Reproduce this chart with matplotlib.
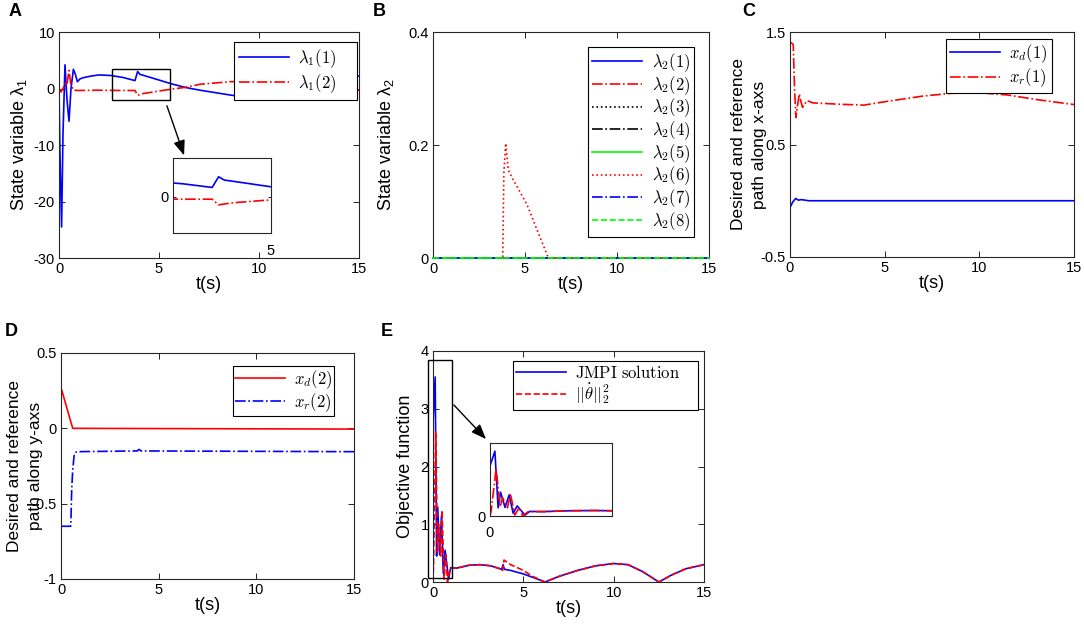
import matplotlib

matplotlib.use("Agg")
import matplotlib.pyplot as plt
from matplotlib.patches import Rectangle

plt.rcParams["font.family"] = ["Liberation Sans", "DejaVu Sans"]
plt.rcParams["mathtext.fontset"] = "cm"
plt.rcParams["axes.unicode_minus"] = False

BLUE = "#0000ff"
RED = "#ff0000"
GREEN = "#00ff00"
BLACK = "#000000"
SPINE = "#262626"
TICK_FS = 10.5
LAB_FS = 13
LAB2_FS = 12.5
LEG_FS = 12
PAD = "\u00a0" * 4   # MATLAB legends leave extra room on the right

# ---- panel A: lambda_1 ----
a_t1 = [0, 0.05, 0.13, 0.2, 0.3, 0.4, 0.5, 0.6, 0.72, 0.82, 0.92, 1.05, 1.2,
        1.6, 2.0, 2.6, 3.2, 3.8, 3.93, 4.05, 4.2, 5.0, 5.55, 6.3, 7.05, 8.55,
        9.5, 10.5, 11.4, 12.5, 13.5, 14.3, 15]
a_v1 = [0, -12, -24.5, -8, 4.2, -2, -5.8, 0, 3.4, 2.5, 1.2, 1.7, 1.9,
        2.2, 2.4, 2.3, 1.95, 1.4, 3.0, 2.5, 2.35, 1.5, 0.9, 0.2, -0.3, -1.15,
        -1.6, -1.9, -1.8, -0.7, 0.7, 1.7, 2.2]
a_t2 = [0, 0.1, 0.2, 0.3, 0.38, 0.45, 0.5, 0.58, 0.72, 1.0, 2.0, 3.0, 3.8,
        3.93, 4.2, 5.0, 5.55, 6.3, 7.05, 8.55, 9.5, 10.5, 11.5, 12.5, 13.5,
        14.3, 15]
a_v2 = [0, -0.6, 0, 0.9, 0.5, 2.0, 3.2, 1.0, -0.3, -0.35, -0.3, -0.35, -0.35,
        -1.2, -0.9, -0.45, -0.15, 0.2, 0.75, 1.2, 1.3, 1.25, 1.0, 0.6, 0.2,
        -0.1, -0.3]

# ---- panel B: lambda_2 (only component 6 leaves zero) ----
b_t = [0, 3.79, 3.85, 3.95, 4.05, 4.1, 4.3, 5.1, 6.27, 15]
b_v6 = [0, 0, 0.15, 0.203, 0.17, 0.155, 0.142, 0.095, 0, 0]
b_zero_t = [0, 15]
b_zero_v = [0, 0]
b_styles = [(BLUE, "-"), (RED, "-."), (BLACK, ":"), (BLACK, "-."),
            (GREEN, "-"), (RED, ":"), (BLUE, "-."), (GREEN, "--")]

# ---- panel C: path along x ----
c_td = [0, 0.15, 0.3, 0.45, 0.6, 1.0, 15]
c_vd = [-0.06, -0.01, 0.02, 0.005, 0.01, 0.0, 0.0]
c_tr = [0, 0.17, 0.24, 0.31, 0.4, 0.49, 0.58, 0.66, 0.78, 0.9, 1.2, 2.6,
        3.9, 5.0, 7.0, 8.5, 10.0, 11.5, 13.0, 15]
c_vr = [1.41, 1.39, 1.0, 0.74, 0.85, 0.95, 0.88, 0.83, 0.86, 0.89, 0.87,
        0.858, 0.85, 0.88, 0.93, 0.955, 0.96, 0.94, 0.9, 0.855]

# ---- panel D: path along y ----
d_td = [0, 0.6, 15]
d_vd = [0.27, 0.0, -0.005]
d_tr = [0, 0.5, 0.55, 0.6, 0.68, 0.8, 3.9, 4.0, 4.1, 15]
d_vr = [-0.65, -0.65, -0.4, -0.276, -0.17, -0.155, -0.15, -0.14, -0.15,
        -0.155]

# ---- panel E: objective function ----
e_t1 = [0, 0.12, 0.2, 0.26, 0.37, 0.47, 0.57, 0.67, 0.86, 0.98, 1.3, 2.0,
        2.6, 3.2, 3.8, 3.88, 3.95, 4.3, 5.0, 5.7, 6.2, 7.0, 8.0, 9.0, 10.0,
        10.8, 11.6, 12.5, 13.2, 14.0, 15]
e_v1 = [2.75, 3.55, 0.45, 1.3, 0.47, 1.15, 0.15, 0.55, 0.05, 0.25, 0.24,
        0.29, 0.3, 0.28, 0.22, 0.3, 0.22, 0.2, 0.14, 0.06, 0.0, 0.1, 0.2,
        0.28, 0.32, 0.3, 0.18, 0.0, 0.12, 0.23, 0.3]
e_t2 = [0, 0.03, 0.15, 0.25, 0.31, 0.43, 0.5, 0.61, 0.72, 0.8, 0.94, 1.3,
        2.0, 2.6, 3.2, 3.8, 3.85, 3.93, 4.3, 5.0, 5.5, 6.2, 7.0, 8.0, 9.0,
        10.0, 10.8, 11.6, 12.5, 13.2, 14.0, 15]
e_v2 = [0, 0.3, 2.6, 0.5, 1.0, 0.45, 1.24, 0.05, 0.47, 0.0, 0.24, 0.24,
        0.29, 0.3, 0.28, 0.22, 0.2, 0.38, 0.3, 0.2, 0.1, 0.0, 0.1, 0.2,
        0.28, 0.32, 0.3, 0.18, 0.0, 0.12, 0.23, 0.3]


def style(ax, fs=TICK_FS, length=4):
    for s in ax.spines.values():
        s.set_color(SPINE)
        s.set_linewidth(0.8)
    ax.tick_params(direction="in", top=True, right=True, length=length,
                   width=0.6, labelsize=fs, colors=BLACK, pad=3)


def legend(ax, loc_xy, spacing=0.1, pad=0.25):
    leg = ax.legend(loc="upper right", bbox_to_anchor=loc_xy,
                    fontsize=LEG_FS, fancybox=False, framealpha=1,
                    edgecolor=BLACK, handlelength=3.0, handletextpad=0.55,
                    borderaxespad=0, labelspacing=spacing, borderpad=pad)
    leg.get_frame().set_linewidth(0.8)
    return leg


W, H = 1084, 625
fig = plt.figure(figsize=(W / 100, H / 100), dpi=100)


def box(x0, y0, x1, y1):
    return [x0 / W, 1 - y1 / H, (x1 - x0) / W, (y1 - y0) / H]


LW = 1.2
ARROW = "-|>,head_length=0.9,head_width=0.35"

# A
ax = fig.add_axes(box(59, 32, 359, 258))
ax.plot(a_t1, a_v1, color=BLUE, lw=LW, label=r"$\lambda_1(1)$" + PAD)
ax.plot(a_t2, a_v2, color=RED, lw=LW, ls="-.", label=r"$\lambda_1(2)$" + PAD)
ax.set_xlim(0, 15)
ax.set_ylim(-30, 10)
ax.set_xticks([0, 5, 10, 15])
ax.set_yticks([-30, -20, -10, 0, 10])
style(ax)
ax.set_xlabel("t(s)", fontsize=LAB_FS, labelpad=0)
ax.set_ylabel(r"State variable $\mathregular{\lambda_1}$", fontsize=LAB_FS)
ax.yaxis.set_label_coords(-0.10, 0.5)
legend(ax, (0.993, 0.956), spacing=0.15, pad=0.3)
ax.add_patch(Rectangle((2.65, -2.0), 2.9, 5.45, fill=False, ec=BLACK,
                       lw=1.0, zorder=5))
ax.annotate("", xy=(6.3, -12.3), xytext=(5.35, -2.6),
            arrowprops=dict(arrowstyle=ARROW, color=BLACK, lw=1.0))
ins = fig.add_axes(box(173, 158, 271, 233))
ins.plot(a_t1, a_v1, color=BLUE, lw=LW)
ins.plot(a_t2, a_v2, color=RED, lw=LW, ls="-.")
ins.set_xlim(3, 5)
ins.set_ylim(-5.4, 5.8)
ins.set_xticks([5])
ins.set_yticks([0])
style(ins, length=2.5)
ins.tick_params(axis="x", pad=8)
fig.text(15 / W, 1 - 12 / H, "A", fontsize=13, fontweight="bold",
         ha="center", va="center")

# B
ax = fig.add_axes(box(433, 32, 709, 258))
for i, (c, ls) in enumerate(b_styles):
    if i == 5:
        ax.plot(b_t, b_v6, color=c, ls=ls, lw=LW, clip_on=False, zorder=3,
                label=rf"$\lambda_2({i + 1})$")
    else:
        ax.plot(b_zero_t, b_zero_v, color=c, ls=ls, lw=LW, clip_on=False,
                zorder=3, label=rf"$\lambda_2({i + 1})$")
ax.set_xlim(0, 15)
ax.set_ylim(0, 0.4)
ax.set_xticks([0, 5, 10, 15])
ax.set_yticks([0, 0.2, 0.4])
ax.set_yticklabels(["0", "0.2", "0.4"])
style(ax)
ax.set_xlabel("t(s)", fontsize=LAB_FS, labelpad=0)
ax.set_ylabel(r"State variable $\mathregular{\lambda_2}$", fontsize=LAB_FS)
ax.yaxis.set_label_coords(-0.135, 0.5)
legend(ax, (0.946, 0.934), spacing=0.0, pad=0.25)
fig.text(379 / W, 1 - 12 / H, "B", fontsize=13, fontweight="bold",
         ha="center", va="center")

# C
ax = fig.add_axes(box(790, 32, 1074, 257))
ax.plot(c_td, c_vd, color=BLUE, lw=LW, label=r"$x_d(1)$" + "\u00a0")
ax.plot(c_tr, c_vr, color=RED, lw=LW, ls="-.", label=r"$x_r(1)$" + "\u00a0")
ax.set_xlim(0, 15)
ax.set_ylim(-0.5, 1.5)
ax.set_xticks([0, 5, 10, 15])
ax.set_yticks([-0.5, 0.5, 1.5])
ax.set_yticklabels(["-0.5", "0.5", "1.5"])
style(ax)
ax.set_xlabel("t(s)", fontsize=LAB_FS, labelpad=0)
ax.set_ylabel("Desired and reference\npath along x-axs", fontsize=LAB2_FS,
              linespacing=1.45)
ax.yaxis.set_label_coords(-0.082, 0.5)
legend(ax, (0.923, 0.969), spacing=0.1, pad=0.2)
fig.text(749 / W, 1 - 12 / H, "C", fontsize=13, fontweight="bold",
         ha="center", va="center")

# D
ax = fig.add_axes(box(61, 353, 354, 579))
ax.plot(d_td, d_vd, color=RED, lw=LW, label=r"$x_d(2)$")
ax.plot(d_tr, d_vr, color=BLUE, lw=LW, ls="-.", label=r"$x_r(2)$")
ax.set_xlim(0, 15)
ax.set_ylim(-1, 0.5)
ax.set_xticks([0, 5, 10, 15])
ax.set_yticks([-1, -0.5, 0, 0.5])
ax.set_yticklabels(["-1", "-0.5", "0", "0.5"])
style(ax)
ax.set_xlabel("t(s)", fontsize=LAB_FS, labelpad=0)
ax.set_ylabel("Desired and reference\npath along y-axs", fontsize=LAB2_FS,
              linespacing=1.45)
ax.yaxis.set_label_coords(-0.062, 0.5)
legend(ax, (0.932, 0.942), spacing=0.0, pad=0.12)
fig.text(11 / W, 1 - 332 / H, "D", fontsize=13, fontweight="bold",
         ha="center", va="center")

# E
ax = fig.add_axes(box(433, 351, 704, 582))
ax.plot(e_t1, e_v1, color=BLUE, lw=LW,
        label=r"$\mathrm{JMPI\ solution}$" + PAD)
ax.plot(e_t2, e_v2, color=RED, lw=LW, ls="--",
        label=r"$||\dot{\theta}||_2^2$")
ax.set_xlim(0, 15)
ax.set_ylim(0, 4)
ax.set_xticks([0, 5, 10, 15])
ax.set_yticks([0, 1, 2, 3, 4])
style(ax)
ax.set_xlabel("t(s)", fontsize=LAB_FS, labelpad=0)
ax.set_ylabel("Objective function", fontsize=LAB_FS)
ax.yaxis.set_label_coords(-0.07, 0.5)
legend(ax, (0.978, 0.957), spacing=0.05, pad=0.2)
ax.add_patch(Rectangle((-0.28, 0.07), 1.33, 3.77, fill=False, ec=BLACK,
                       lw=1.0, clip_on=False, zorder=5))
ax.annotate("", xy=(3.04, 2.44), xytext=(1.05, 3.1),
            arrowprops=dict(arrowstyle=ARROW, color=BLACK, lw=1.0))
ins = fig.add_axes(box(490, 443, 612, 516))
ins.plot(e_t1, e_v1, color=BLUE, lw=LW)
ins.plot(e_t2, e_v2, color=RED, lw=LW, ls="-.")
ins.set_xlim(0, 3)
ins.set_ylim(0, 4)
ins.set_xticks([0])
ins.set_yticks([0])
style(ins, length=2.5)
ins.tick_params(axis="x", pad=7)
fig.text(387 / W, 1 - 332 / H, "E", fontsize=13, fontweight="bold",
         ha="center", va="center")

fig.savefig("out.png", dpi=100, facecolor="white")
